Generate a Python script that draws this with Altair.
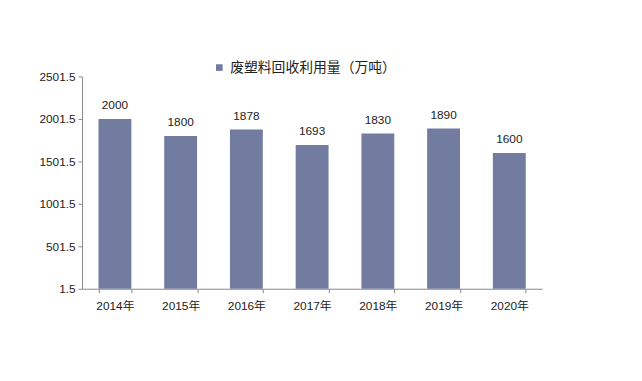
import altair as alt
import pandas as pd

years = ["2014年", "2015年", "2016年", "2017年", "2018年", "2019年", "2020年"]
values = [2000, 1800, 1878, 1693, 1830, 1890, 1600]
series_name = "废塑料回收利用量（万吨）"
y_ticks = [1.5, 501.5, 1001.5, 1501.5, 2001.5, 2501.5]

df = pd.DataFrame({"year": years, "value": values, "series": [series_name] * len(years)})

FONT = "Liberation Sans, Noto Sans CJK SC"
BAR = "#717CA0"

base = alt.Chart(df).encode(
    x=alt.X("year:N", sort=years,
            scale=alt.Scale(paddingInner=0.5, paddingOuter=0.25),
            axis=alt.Axis(title=None, labelAngle=0, tickBand="extent",
                          labelFont=FONT, labelFontSize=12, labelColor="#222",
                          domainColor="#888", tickColor="#888", tickSize=4,
                          labelPadding=8)),
)

bars = base.mark_bar(color=BAR).encode(
    y=alt.Y("value:Q", scale=alt.Scale(domain=[1.5, 2501.5], nice=False, zero=False),
            axis=alt.Axis(title=None, values=y_ticks, format=".1f", grid=False,
                          labelFont=FONT, labelFontSize=12, labelColor="#222",
                          domainColor="#888", tickColor="#888", tickSize=4,
                          labelPadding=3)),
    y2=alt.datum(1.5),
    color=alt.Color("series:N", scale=alt.Scale(range=[BAR]),
                    legend=alt.Legend(title=None, orient="none", legendX=132, legendY=-16,
                                      symbolType="square", symbolSize=45,
                                      symbolStrokeWidth=0, labelLimit=400,
                                      labelFont=FONT, labelFontSize=14, labelColor="#222")),
)

labels = base.mark_text(dy=-14, font=FONT, fontSize=12, color="#222").encode(
    y=alt.Y("value:Q"),
    text=alt.Text("value:Q"),
)

chart = (bars + labels).properties(
    width=466, height=215,
    autosize=alt.AutoSizeParams(type="none"),
    padding={"left": 75, "top": 67, "right": 93, "bottom": 83},
).configure_view(stroke=None)

chart.save("out.html", embed_options={"renderer": "svg", "actions": False})
